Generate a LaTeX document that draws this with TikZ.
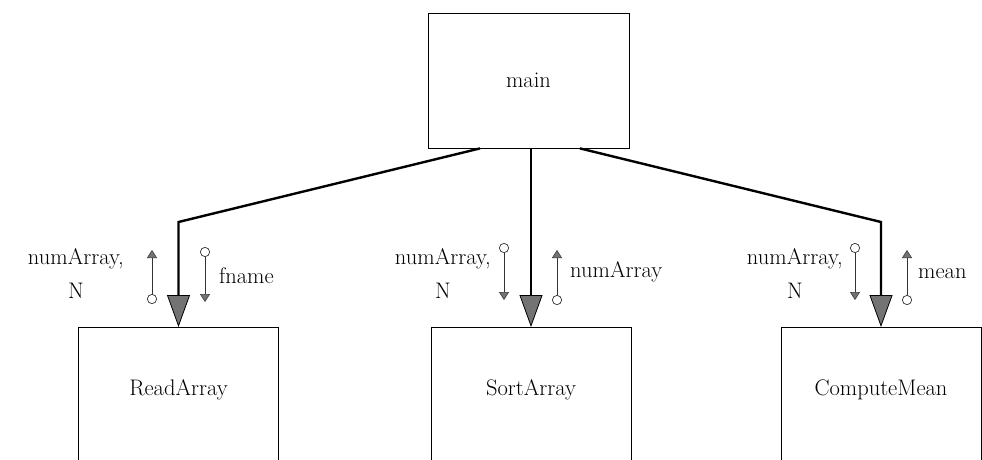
\documentclass[tikz,border=0pt]{standalone}
\usetikzlibrary{arrows.meta}
\begin{document}
\begin{tikzpicture}[x=1pt,y=-1pt,
  txt/.style={font=\fontsize{22.5}{34}\selectfont, inner sep=0pt},
  box/.style={draw, line width=0.8pt, minimum width=200pt, inner sep=0pt},
  conn/.style={line width=2.4pt, line join=miter,
    -{Triangle[width=23pt,length=32pt,fill=black!55,line width=0.8pt]}},
  couple/.style={line width=0.7pt, draw=black!80,
    {Circle[open,length=10pt,width=10pt,line width=0.7pt]}-{Triangle[width=10pt,length=8pt,fill=black!55,line width=0.5pt]}}]
  \useasboundingbox (0,0) rectangle (982,459);

  % modules
  \node[box, txt, minimum width=201pt, minimum height=135pt] (main) at (528.5,80.5) {main};
  \node[box, minimum height=200pt, anchor=north] (rA) at (178.5,327) {};
  \node[box, minimum height=200pt, anchor=north] (sA) at (531,327) {};
  \node[box, minimum height=200pt, anchor=north] (cM) at (881,327) {};
  \node[txt] (rAt) at (178.5,390) {ReadArray};
  \node[txt] (sAt) at (531,390) {SortArray};
  \node[txt] (cMt) at (881,390) {ComputeMean};

  % calls
  \coordinate (bend) at (0,222);
  \draw[conn] ([xshift=-48.5pt]main.south) -- (rA.north |- bend) -- (rA.north);
  \draw[conn] (main.south -| sA.north) -- (sA.north);
  \draw[conn] ([xshift=51.5pt]main.south) -- (cM.north |- bend) -- (cM.north);

  % data couples
  \coordinate (r1a) at (152,304); \coordinate (r1b) at (152,250);
  \coordinate (r2a) at (205,247); \coordinate (r2b) at (205,302);
  \coordinate (s1a) at (504,243); \coordinate (s1b) at (504,300);
  \coordinate (s2a) at (557,305); \coordinate (s2b) at (557,250);
  \coordinate (c1a) at (855,243); \coordinate (c1b) at (855,300);
  \coordinate (c2a) at (907,305); \coordinate (c2b) at (907,250);
  \draw[couple] (r1a) -- (r1b);
  \draw[couple] (r2a) -- (r2b);
  \draw[couple] (s1a) -- (s1b);
  \draw[couple] (s2a) -- (s2b);
  \draw[couple] (c1a) -- (c1b);
  \draw[couple] (c2a) -- (c2b);

  % couple labels (base anchor sits on the last line)
  \node[txt, align=center, anchor=base east] (l1) at (124,298) {numArray,\\N};
  \node[txt, anchor=base west] (l2) at (219,283) {fname};
  \node[txt, align=center, anchor=base east] (l3) at (491,298) {numArray,\\N};
  \node[txt, anchor=base west] (l4) at (570,277) {numArray};
  \node[txt, align=center, anchor=base east] (l5) at (843,298) {numArray,\\N};
  \node[txt, anchor=base west] (l6) at (918,278) {mean};
\end{tikzpicture}
\end{document}
